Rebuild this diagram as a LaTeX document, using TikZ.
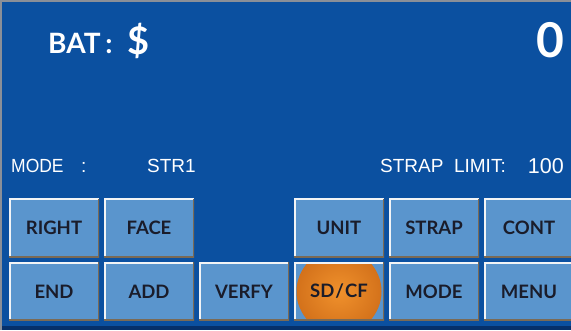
\documentclass[tikz,border=0pt]{standalone}
\usepackage{fontspec}
\setmainfont{Liberation Sans}
\newfontfamily\keyfont{Lato}
\usetikzlibrary{shadings}
\definecolor{panel}{HTML}{0B50A0}
\definecolor{paneldark}{HTML}{06306A}
\definecolor{frame}{HTML}{8A8F98}
\definecolor{keyfill}{HTML}{5A95CD}
\definecolor{keytext}{HTML}{1A1C2A}
\definecolor{keylight}{HTML}{F2F4F6}
\definecolor{keyshade}{HTML}{7A6A55}
\definecolor{hotlight}{HTML}{F0912C}
\definecolor{hotdark}{HTML}{D2701A}
\tikzset{
  keybox/.style={fill=keyfill, minimum width=90pt, minimum height=58.5pt,
    inner sep=0pt, text=keytext,
    font=\keyfont\bfseries\fontsize{18.5}{18.5}\selectfont,
    path picture={
      \draw[keylight, line width=3.4pt]
        (path picture bounding box.south west) --
        (path picture bounding box.north west) --
        (path picture bounding box.north east);
      \draw[keyshade, line width=3pt]
        (path picture bounding box.north east) --
        (path picture bounding box.south east) --
        (path picture bounding box.south west);
    }},
  hotkey/.style={keybox,
    path picture={
      \shade[inner color=hotlight, outer color=hotdark]
        (path picture bounding box.center) circle[radius=42.5pt];
      \draw[keylight, line width=3.4pt]
        (path picture bounding box.south west) --
        (path picture bounding box.north west) --
        (path picture bounding box.north east);
      \draw[keyshade, line width=3pt]
        (path picture bounding box.north east) --
        (path picture bounding box.south east) --
        (path picture bounding box.south west);
    }},
  lcd/.style={text=white, inner sep=0pt, font=\fontsize{19}{19}\selectfont},
  big/.style={text=white, inner sep=0pt, font=\keyfont\bfseries\fontsize{28}{28}\selectfont}
}
\begin{document}
\begin{tikzpicture}[x=1pt,y=-1pt]
\useasboundingbox (0,0) rectangle (571,330);
% display panel
\fill[panel] (0,0) rectangle (571,330);
\fill[paneldark] (0,325.5) rectangle (571,330);
\draw[frame, line width=1.6pt] (0.8,330) -- (0.8,0.8) -- (571,0.8);

% status readouts
\node[big, anchor=base west] (bat) at (48,53) {BAT\,:};
\node[big, anchor=base west, font=\keyfont\bfseries\fontsize{38}{38}\selectfont] (cur) at (127,54) {\$};
\node[big, anchor=base east, font=\keyfont\bfseries\fontsize{48}{48}\selectfont] (count) at (565,57) {0};

\node[lcd, anchor=base west] (mode) at (11,172) {\scalebox{0.92}[1]{MODE}};
\node[lcd, anchor=base west] (modecolon) at (81,172) {:};
\node[lcd, anchor=base west] (modeval) at (147,172) {STR1};
\node[lcd, anchor=base east] (limit) at (506,172) {STRAP\ \ LIMIT:};
\node[lcd, anchor=base east, font=\fontsize{21.5}{21.5}\selectfont] (limitval) at (564,173) {100};

% key rows
\node[keybox] (right) at (54,228) {RIGHT};
\node[keybox] (face)  at (149,228) {FACE};
\node[keybox] (unit)  at (339,228) {UNIT};
\node[keybox] (strap) at (434,228) {STRAP};
\node[keybox] (cont)  at (529,228) {CONT};

\node[keybox] (end)   at (54,291.5) {END};
\node[keybox] (add)   at (149,291.5) {ADD};
\node[keybox] (verfy) at (244,291.5) {VERFY};
\node[hotkey] (sdcf)  at (339,291.5) {SD{\kern1pt}/{\kern1pt}CF};
\node[keybox] (modek) at (434,291.5) {MODE};
\node[keybox] (menu)  at (529,291.5) {MENU};
\end{tikzpicture}
\end{document}
